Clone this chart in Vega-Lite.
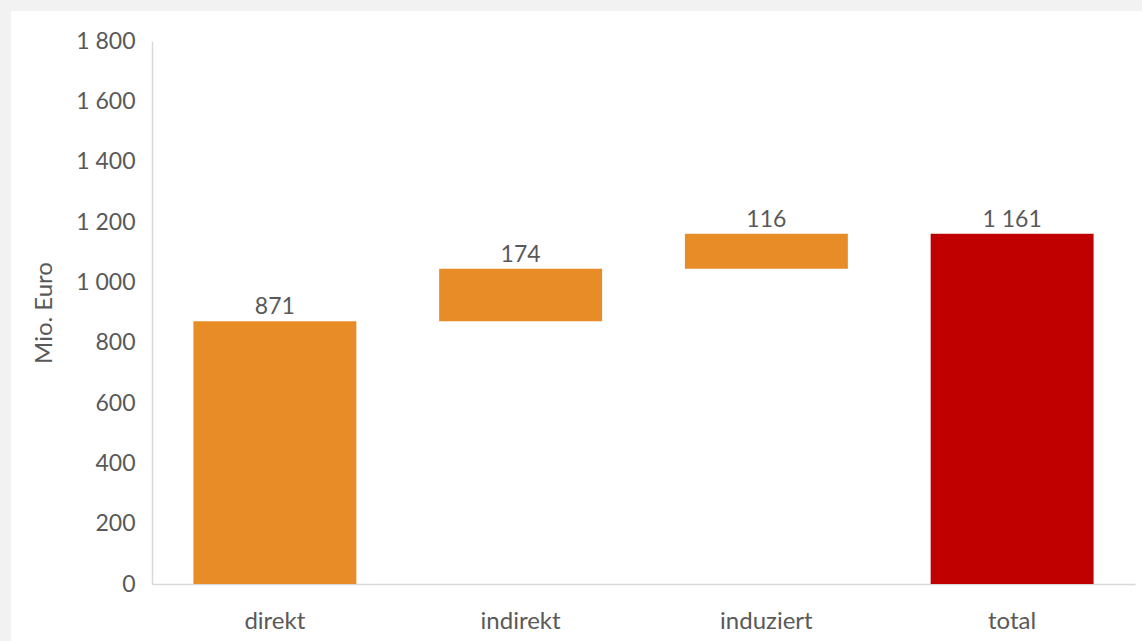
{
  "$schema": "https://vega.github.io/schema/vega-lite/v6.json",
  "autosize": {"type": "none"},
  "padding": {"left": 11, "top": 11, "right": 0, "bottom": 0},
  "width": 1131,
  "height": 630,
  "background": "#f2f2f2",
  "config": {
    "view": {"fill": "white", "stroke": null},
    "font": "Lato",
    "axis": {"labelFont": "Lato", "titleFont": "Lato", "labelColor": "#595959", "titleColor": "#595959", "labelFontSize": 23, "titleFontSize": 24, "titleFontWeight": "normal", "domainColor": "#d9d9d9", "domainWidth": 1.5, "ticks": false, "grid": false}
  },
  "data": {
    "values": [
      {"cat": "direkt", "start": 0, "end": 871, "label": "871", "kind": "Teil"},
      {"cat": "indirekt", "start": 871, "end": 1045, "label": "174", "kind": "Teil"},
      {"cat": "induziert", "start": 1045, "end": 1161, "label": "116", "kind": "Teil"},
      {"cat": "total", "start": 0, "end": 1161, "label": "1 161", "kind": "Total"}
    ]
  },
  "encoding": {
    "x": {
      "field": "cat", "type": "nominal", "sort": null,
      "scale": {"range": [141, 1124], "paddingInner": 0.337, "paddingOuter": 0.1685},
      "axis": {"title": null, "labelAngle": 0, "offset": -57, "labelPadding": 25, "labelBaseline": "top", "labelFontSize": 24}
    }
  },
  "layer": [
    {
      "mark": {"type": "bar"},
      "encoding": {
        "y": {
          "field": "start", "type": "quantitative",
          "scale": {"domain": [0, 1800], "range": [573, 30], "nice": false, "zero": false},
          "axis": {"title": "Mio. Euro", "values": [0, 200, 400, 600, 800, 1000, 1200, 1400, 1600, 1800], "offset": -141, "labelPadding": 17, "titlePadding": 19, "labelExpr": "replace(format(datum.value, ','), ',', ' ')"}
        },
        "y2": {"field": "end"},
        "color": {
          "field": "kind", "type": "nominal",
          "scale": {"domain": ["Teil", "Total"], "range": ["#e88c28", "#c00000"]},
          "legend": null
        }
      }
    },
    {
      "mark": {"type": "text", "baseline": "alphabetic", "dy": -7, "fontSize": 23, "color": "#595959", "font": "Lato"},
      "encoding": {
        "y": {"field": "end", "type": "quantitative"},
        "text": {"field": "label", "type": "nominal"}
      }
    }
  ]
}
